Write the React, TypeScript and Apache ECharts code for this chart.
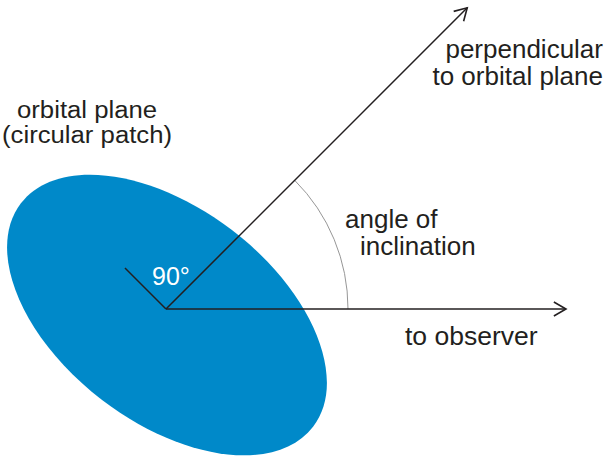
import React, { useEffect, useRef } from "react";
import * as echarts from "echarts";

// Geometry of the diagram (data units, origin at the vertex, y upwards)
const planeCenter = [1, -6];
const planeAxes = [184, 107]; // semi-major, semi-minor
const planeTilt = -37.4; // degrees
const rayAngles = [0, 45, 135]; // to observer, perpendicular, 90° mark
const rayLengths = [400, 426, 58];
const rayHasArrow = [1, 1, 0];
const arcRadius = 182;
const arcAngles = [0, 45];

// Texts
const labelPerp = ["perpendicular", "to orbital plane"];
const labelPlane = ["orbital plane", "(circular patch)"];
const labelAngle = ["angle of", "inclination"];
const labelRight = "90°";
const labelObserver = "to observer";

const FONT = "'Liberation Sans', Arial, Helvetica, sans-serif";
const INK = "#231f20";
const BLUE = "#0089c9";

function txt(text: string, x: number, y: number, align: string, size = 26, fill = INK, sx = 1.0) {
  return {
    type: "text",
    x,
    y,
    scaleX: sx,
    z: 100,
    style: {
      text,
      fontSize: size,
      fontFamily: FONT,
      fill,
      align,
      textAlign: align,
      verticalAlign: "middle",
      textVerticalAlign: "middle",
    },
  };
}

export default function App() {
  const ref = useRef<HTMLDivElement>(null);
  useEffect(() => {
    if (!ref.current) return;
    const chart = echarts.init(ref.current, undefined, { renderer: "svg" });
    const rayData = rayAngles.map((a, i) => [a, rayLengths[i], rayHasArrow[i]]);
    const option: any = {
      animation: false,
      backgroundColor: "#ffffff",
      grid: { left: 0, right: 0, top: 0, bottom: 0 },
      xAxis: { type: "value", min: -166, max: 439, show: false },
      yAxis: { type: "value", min: -150, max: 309, show: false },
      series: [
        {
          type: "custom",
          name: "plane",
          z: 1,
          data: [[planeCenter[0], planeCenter[1], planeAxes[0], planeAxes[1], planeTilt]],
          renderItem: (params: any, api: any) => {
            const c = api.coord([api.value(0), api.value(1)]);
            const s = api.size([api.value(2), api.value(3)]);
            return {
              type: "ellipse",
              x: c[0],
              y: c[1],
              rotation: (api.value(4) * Math.PI) / 180,
              shape: { cx: 0, cy: 0, rx: s[0], ry: s[1] },
              style: { fill: BLUE, stroke: null },
            };
          },
        },
        {
          type: "custom",
          name: "arc",
          z: 2,
          data: [[arcRadius, arcAngles[0], arcAngles[1]]],
          renderItem: (params: any, api: any) => {
            const c = api.coord([0, 0]);
            const r = api.size([api.value(0), 0])[0];
            return {
              type: "arc",
              shape: {
                cx: c[0],
                cy: c[1],
                r,
                startAngle: (-api.value(2) * Math.PI) / 180,
                endAngle: (-api.value(1) * Math.PI) / 180,
                clockwise: true,
              },
              style: { stroke: "#8a8a8a", lineWidth: 0.9, fill: null },
            };
          },
        },
        {
          type: "custom",
          name: "rays",
          z: 3,
          data: rayData,
          renderItem: (params: any, api: any) => {
            const ang = api.value(0);
            const len = api.value(1);
            const rad = (ang * Math.PI) / 180;
            const o = api.coord([0, 0]);
            const e = api.coord([len * Math.cos(rad), len * Math.sin(rad)]);
            const children: any[] = [
              {
                type: "line",
                shape: { x1: o[0], y1: o[1], x2: e[0], y2: e[1] },
                style: { stroke: INK, lineWidth: 1.5 },
              },
            ];
            if (api.value(2)) {
              const dx = e[0] - o[0];
              const dy = e[1] - o[1];
              const d = Math.sqrt(dx * dx + dy * dy);
              const ux = dx / d;
              const uy = dy / d;
              const L = 14;
              const h = (30 * Math.PI) / 180;
              const arm = (sg: number) => {
                const cs = Math.cos(sg * h);
                const sn = Math.sin(sg * h);
                const rx = ux * cs - uy * sn;
                const ry = ux * sn + uy * cs;
                return [e[0] - L * rx, e[1] - L * ry];
              };
              children.push({
                type: "polyline",
                shape: { points: [arm(1), [e[0], e[1]], arm(-1)] },
                style: { stroke: INK, lineWidth: 1.6, fill: null },
              });
            }
            return { type: "group", children };
          },
        },
      ],
      graphic: [
        txt(labelPerp[0], 603, 49, "right"),
        txt(labelPerp[1], 603, 76, "right"),
        txt(labelPlane[0], 17, 109.5, "left", 24.5, INK, 1.05),
        txt(labelPlane[1], 2, 134.5, "left", 24.5, INK, 1.05),
        txt(labelAngle[0], 345, 219, "left"),
        txt(labelAngle[1], 360, 246, "left"),
        txt(labelRight, 152, 276, "left", 25, "#ffffff"),
        txt(labelObserver, 405, 336, "left", 26, INK, 1.02),
      ],
    };
    chart.setOption(option);
    return () => chart.dispose();
  }, []);
  return (
    <div
      ref={ref}
      style={{ position: "absolute", left: 0, top: 0, width: 605, height: 459, background: "#fff" }}
    />
  );
}
